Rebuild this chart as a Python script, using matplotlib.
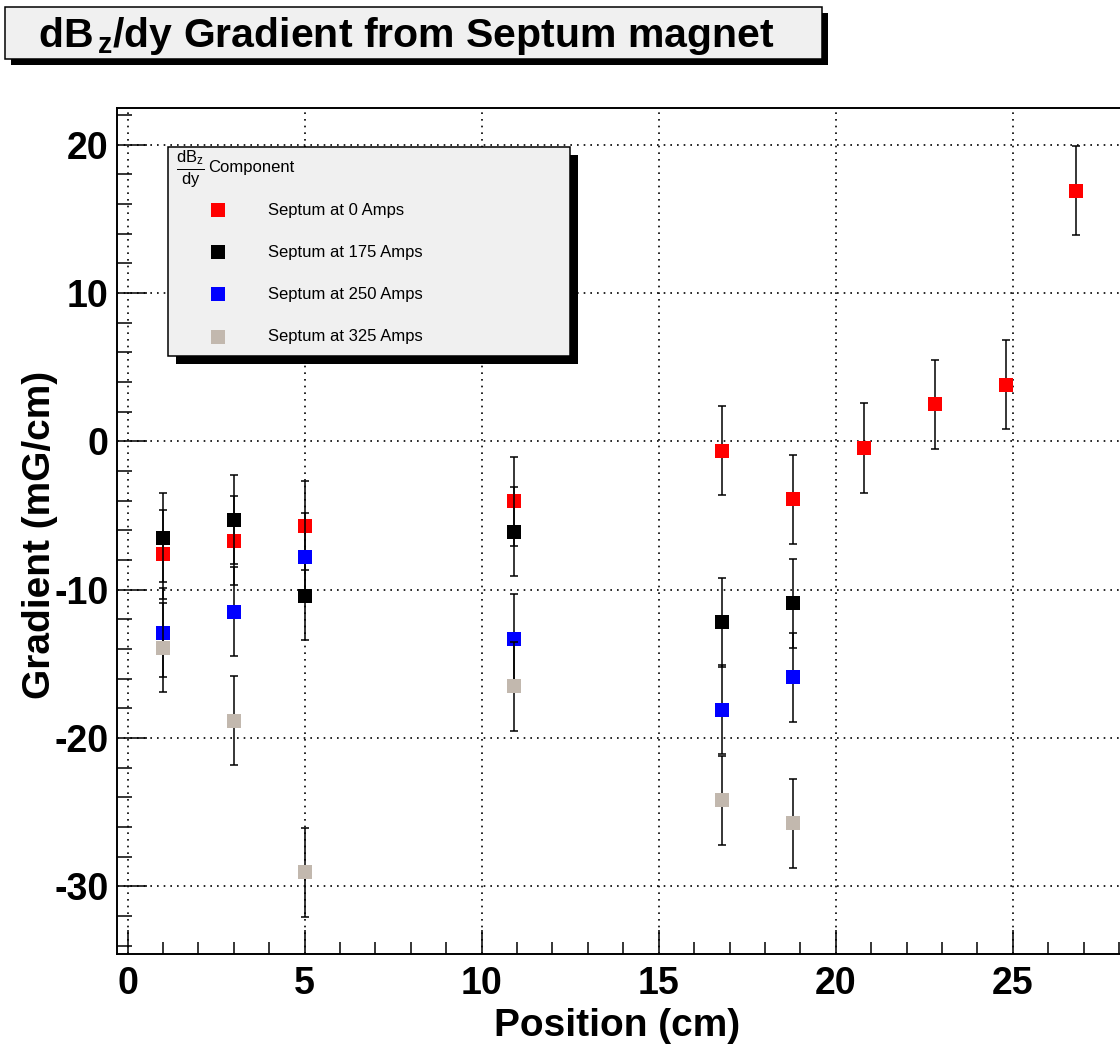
import numpy as np
import matplotlib.pyplot as plt
from matplotlib.patches import Rectangle
from matplotlib.lines import Line2D

plt.rcParams['font.family'] = ['Liberation Sans', 'DejaVu Sans']
plt.rcParams['mathtext.fontset'] = 'custom'
plt.rcParams['mathtext.rm'] = 'Liberation Sans'
plt.rcParams['mathtext.it'] = 'Liberation Sans:italic'
plt.rcParams['mathtext.bf'] = 'Liberation Sans:bold'
plt.rcParams['axes.unicode_minus'] = False

# data (position in cm, gradient in mG/cm)
pos_0 = [1, 3, 5, 10.9, 16.8, 18.8, 20.8, 22.8, 24.8, 26.8]
grad_0 = [-7.6, -6.7, -5.7, -4.05, -0.65, -3.9, -0.45, 2.5, 3.8, 16.9]
err_0 = [3.0, 3.0, 3.0, 3.0, 3.0, 3.0, 3.0, 3.0, 3.0, 3.0]

pos_on = [1, 3, 5, 10.9, 16.8, 18.8]
grad_175 = [-6.5, -5.3, -10.4, -6.1, -12.2, -10.9]
grad_250 = [-12.9, -11.5, -7.8, -13.3, -18.1, -15.9]
grad_325 = [-13.9, -18.85, -29.05, -16.5, -24.2, -25.75]
err_on = [3.0, 3.0, 3.0, 3.0, 3.0, 3.0]

labels = ["Septum at 0 Amps", "Septum at 175 Amps", "Septum at 250 Amps", "Septum at 325 Amps"]
colors = ["#ff0000", "#000000", "#0000ff", "#c2b8ae"]

series = [(pos_0, grad_0, err_0), (pos_on, grad_175, err_on),
          (pos_on, grad_250, err_on), (pos_on, grad_325, err_on)]

W, H = 1120, 1048
fig = plt.figure(figsize=(W/100, H/100), dpi=100)

def fx(x):
    return x / W

def fy(y):
    return 1 - y / H

def box(x0, y0, x1, y1, off, fill):
    # ROOT style box with black drop shadow
    fig.patches.append(Rectangle((fx(x0 + off), fy(y1 + off)), (x1 - x0) / W, (y1 - y0) / H,
                                 transform=fig.transFigure, facecolor='black', edgecolor='black', lw=0))
    fig.patches.append(Rectangle((fx(x0), fy(y1)), (x1 - x0) / W, (y1 - y0) / H,
                                 transform=fig.transFigure, facecolor=fill, edgecolor='black', lw=1.1))

ax = fig.add_axes([fx(117), fy(954), (1125 - 117) / W, (954 - 108) / H])

for i, (x, y, e) in enumerate(series):
    ax.errorbar(x, y, yerr=e, fmt='none', ecolor='black', elinewidth=1.1,
                capsize=2.8, capthick=1.1, zorder=3 + 2*i)
    ax.plot(x, y, 's', color=colors[i], markersize=10, markeredgewidth=0, zorder=4 + 2*i)

ax.set_xlim(-0.3, 28.17)
ax.set_ylim(-34.56, 22.47)
ax.set_xticks(np.arange(0, 30, 5))
ax.set_xticks(np.arange(0, 29, 1), minor=True)
ax.set_yticks(np.arange(-30, 21, 10))
ax.set_yticks(np.arange(-34, 23, 2), minor=True)
ax.grid(True, which='major', color='black', linestyle=(0, (1, 3)), linewidth=1.2)
ax.set_axisbelow(True)

ax.tick_params(which='both', direction='in', top=False, right=False, width=1.1)
ax.tick_params(axis='x', which='major', length=17, pad=9, labelsize=27)
ax.tick_params(axis='x', which='minor', length=8.6)
ax.tick_params(axis='y', which='major', length=21.6, pad=6, labelsize=27)
ax.tick_params(axis='y', which='minor', length=11)
for lbl in ax.get_xticklabels() + ax.get_yticklabels():
    lbl.set_fontweight('bold')
for s in ['left', 'bottom', 'top']:
    ax.spines[s].set_linewidth(1.4)
ax.spines['right'].set_visible(False)

ax.set_xlabel("Position (cm)", fontsize=28, fontweight='bold')
ax.xaxis.set_label_coords(0.496, -0.085)
ax.xaxis.label.set_va('center')
ax.set_ylabel("Gradient (mG/cm)", fontsize=28, fontweight='bold')
ax.yaxis.set_label_coords(-0.0764, 0.495)
ax.yaxis.label.set_va('center')

# title box
box(5, 7, 822, 59, 6, '#f0f0f0')
fig.text(fx(38), fy(47), r"dB$_{\,\mathbf{z}}$/dy Gradient from Septum magnet",
         fontsize=29.5, fontweight='bold', ha='left', va='baseline')

# legend box
box(168, 147, 570, 356, 8, '#f0f0f0')
fig.text(fx(176), fy(169), r"$\frac{\mathrm{dB_z}}{\mathrm{dy}}$", fontsize=17, ha='left', va='center')
fig.text(fx(208), fy(168), "Component", fontsize=12, ha='left', va='center')
rows = [210, 252, 294, 337]
for i in range(4):
    fig.add_artist(Line2D([fx(218)], [fy(rows[i])], marker='s', color=colors[i], markersize=9.5,
                          markeredgewidth=0, transform=fig.transFigure))
    fig.text(fx(268), fy(rows[i]), labels[i], fontsize=12, ha='left', va='center')

fig.savefig("out.png", dpi=100)
